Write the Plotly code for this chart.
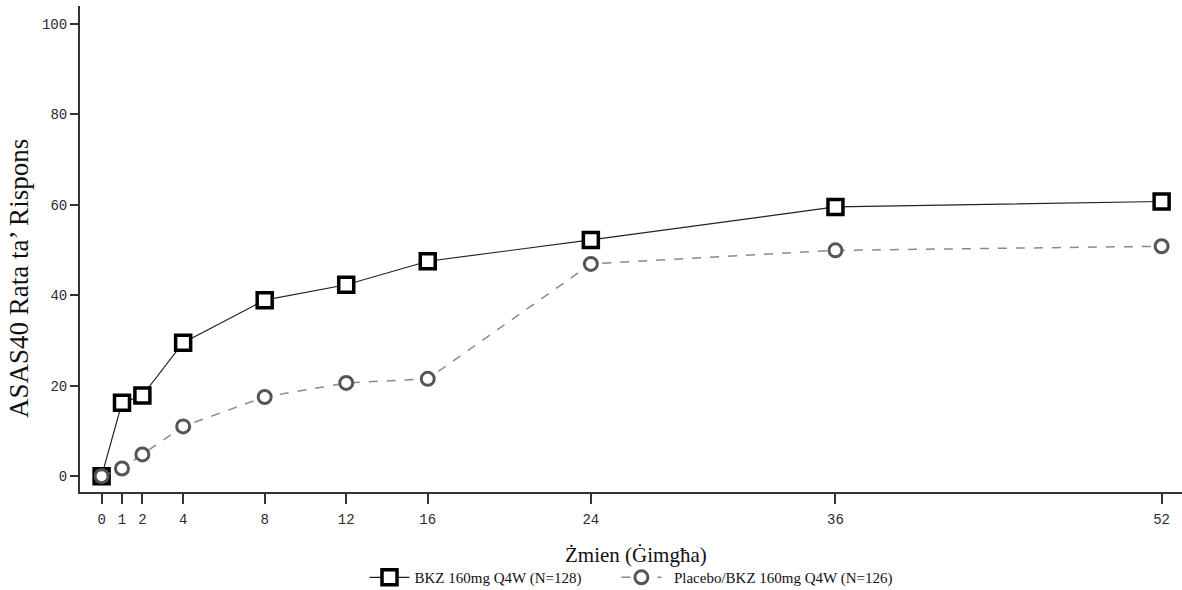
import plotly.graph_objects as go

weeks = [0, 1, 2, 4, 8, 12, 16, 24, 36, 52]
bkz = [0, 16.2, 17.8, 29.5, 38.9, 42.3, 47.5, 52.2, 59.5, 60.7]
placebo = [0, 1.7, 4.8, 11.0, 17.5, 20.6, 21.5, 46.9, 49.9, 50.8]
xticks = [0, 1, 2, 4, 8, 12, 16, 24, 36, 52]
yticks = [0, 20, 40, 60, 80, 100]
name_bkz = "BKZ 160mg Q4W (N=128)"
name_pbo = "Placebo/BKZ 160mg Q4W (N=126)"
x_title = "Żmien (Ġimgħa)"
y_title = "ASAS40 Rata ta’ Rispons"

fig = go.Figure()
fig.add_trace(go.Scatter(
    x=weeks, y=bkz, name=name_bkz + "\u2003\u2003", mode="lines+markers",
    line=dict(color="#222222", width=1.2),
    marker=dict(symbol="square", size=15, color="white",
                line=dict(color="black", width=3.5)),
))
fig.add_trace(go.Scatter(
    x=weeks, y=placebo, name="\u2002" + name_pbo, mode="lines+markers",
    line=dict(color="#8a8a8a", width=1.5, dash="dash"),
    marker=dict(symbol="circle", size=13, color="white",
                line=dict(color="#555555", width=3)),
))

fig.update_layout(
    width=1182, height=590,
    margin=dict(l=80, r=0, t=6, b=98, autoexpand=False),
    plot_bgcolor="white", paper_bgcolor="white",
    showlegend=True,
    legend=dict(orientation="h", x=0.5, xanchor="center", y=-0.176, yanchor="middle",
                font=dict(family="Liberation Serif", size=15, color="#111"),
                itemwidth=40),
    xaxis=dict(
        range=[-1.06, 53.0], tickmode="array", tickvals=xticks,
        ticktext=[str(t) for t in xticks],
        showline=True, linecolor="#333", linewidth=2, mirror=False,
        ticks="outside", ticklen=10, tickcolor="#333", tickwidth=1.5,
        ticklabelstandoff=3,
        showgrid=False, zeroline=False,
        tickfont=dict(family="Liberation Mono", size=14, color="#2a2a3a"),
    ),
    yaxis=dict(
        range=[-3.5, 103.9], tickmode="array", tickvals=yticks,
        showline=True, linecolor="#333", linewidth=2,
        ticks="outside", ticklen=8, tickcolor="#333", tickwidth=1.5,
        showgrid=False, zeroline=False,
        tickfont=dict(family="Liberation Mono", size=14, color="#2a2a3a"),
    ),
    annotations=[
        dict(text=x_title, xref="paper", yref="paper", x=0.5045, y=-0.13,
             xanchor="center", yanchor="middle", showarrow=False,
             font=dict(family="Liberation Serif", size=21, color="#111")),
        dict(text=y_title, xref="paper", yref="paper", x=-0.0554, y=0.44,
             xanchor="center", yanchor="middle", showarrow=False, textangle=-90,
             font=dict(family="Liberation Serif", size=27, color="#111")),
    ],
)

fig.write_html("out.html")
